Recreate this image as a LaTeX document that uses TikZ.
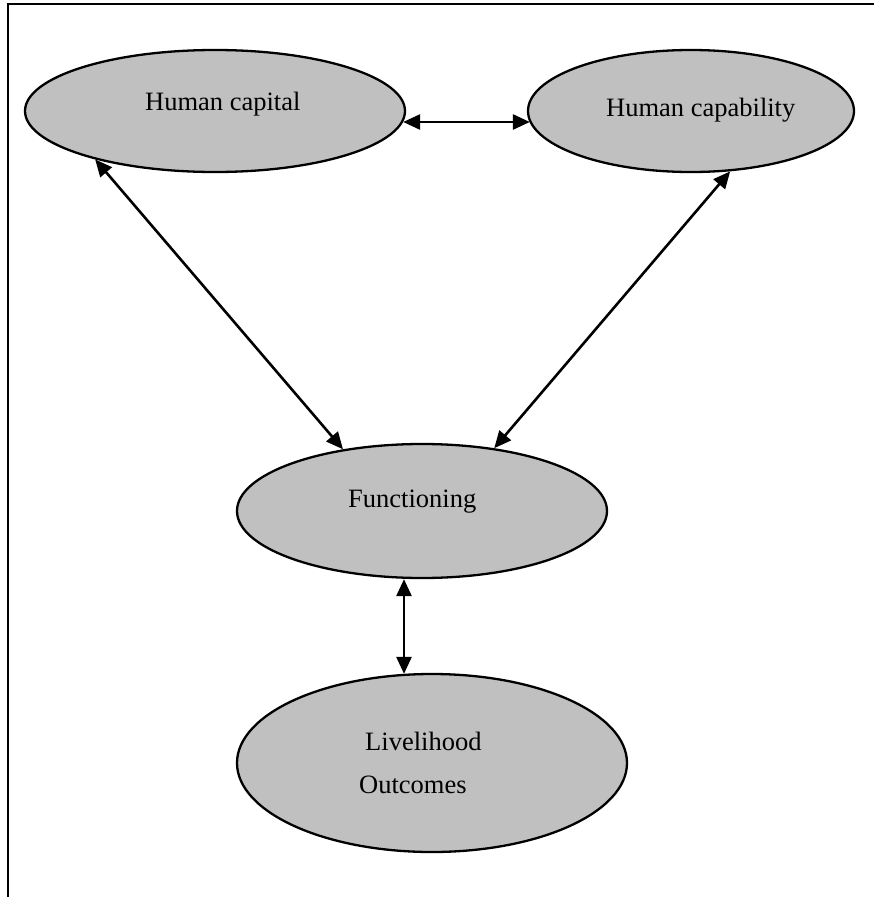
\documentclass[tikz,border=0pt]{standalone}
\usepackage{fontspec}
\setmainfont{Liberation Serif}
\usetikzlibrary{shapes.geometric,arrows.meta}
\begin{document}
\begin{tikzpicture}[x=1pt,y=-1pt,
  blob/.style={ellipse,draw=black,line width=2.3pt,fill=silverfill,inner sep=0pt},
  lbl/.style={anchor=base west,inner sep=0pt,font=\fontsize{26.5}{32}\selectfont},
  link/.style={line width=2.6pt,{Triangle[length=17pt,width=15pt]}-{Triangle[length=17pt,width=15pt]}}]
\definecolor{silverfill}{HTML}{C0C0C0}
\useasboundingbox (0,0) rectangle (874,897);
% frame edges
\draw[line width=2.3pt] (8,897) -- (8,4) -- (874,4);
% ovals
\node[blob,minimum width=380pt,minimum height=122pt] (hc) at (215,111) {};
\node[blob,minimum width=326pt,minimum height=122pt] (hcap) at (691,111) {};
\node[blob,minimum width=370pt,minimum height=134pt] (fn) at (422,511) {};
\node[blob,minimum width=390pt,minimum height=178pt] (lo) at (432,763) {};
% labels
\node[lbl] (hct) at (145,110) {Human capital};
\node[lbl] (hcapt) at (606,116) {Human capability};
\node[lbl] (fnt) at (348,507) {Functioning};
\node[lbl] (lot1) at (365,750) {Livelihood};
\node[lbl] (lot2) at (359,793) {Outcomes};
% links
\draw[link] ([shift={(-3,11)}]hc.east) -- ([shift={(3,11)}]hcap.west);
\draw[link] (hc.202.5) -- (fn.142.6);
\draw[link] (hcap.303.7) -- (fn.41.8);
\draw[link] ([shift={(-18,0)}]fn.south) -- ([shift={(-28,1)}]lo.north);
\end{tikzpicture}
\end{document}
